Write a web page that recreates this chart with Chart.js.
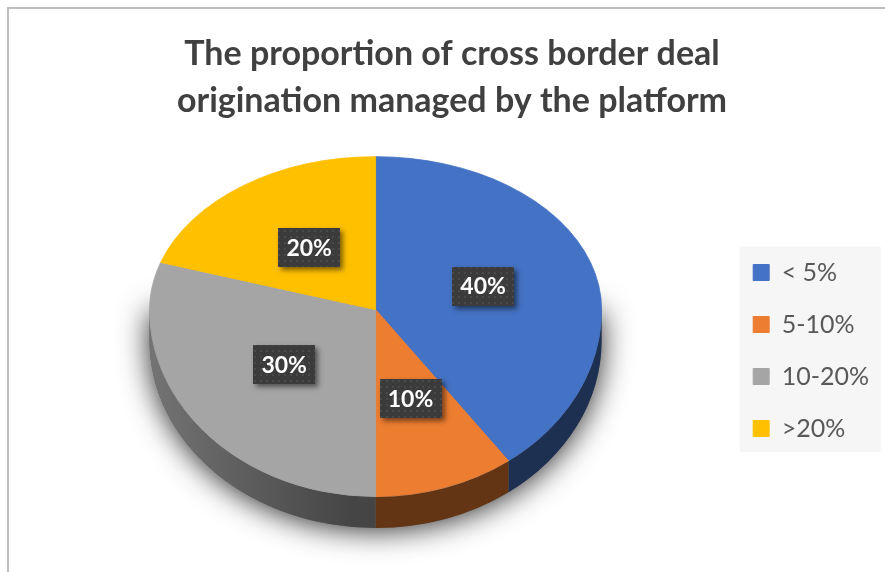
<!DOCTYPE html>
<html>
<head>
<meta charset="utf-8">
<script src="https://cdn.jsdelivr.net/npm/chart.js@4.4.1/dist/chart.umd.min.js"></script>
<style>
    html, body { margin: 0; padding: 0; background: #fff; }
    canvas { display: block; }
</style>
</head>
<body>
<canvas id="myChart" width="885" height="572"></canvas>
<script>
const titleLines = ["The proportion of cross border deal", "origination managed by the platform"];
const categories = ["< 5%", "5-10%", "10-20%", ">20%"];
const shares = [40, 10, 30, 20];
const sliceColors = ["#4472C4", "#ED7D31", "#A5A5A5", "#FFC000"];

// the pie is tilted away: back half squashed more than the front half
const TILT_BACK = 0.677;
const TILT_FRONT = 0.827;
const DEPTH = 31;

function darken(hex, k) {
    const n = parseInt(hex.slice(1), 16);
    const r = Math.round(((n >> 16) & 255) * k);
    const g = Math.round(((n >> 8) & 255) * k);
    const b = Math.round((n & 255) * k);
    return `rgb(${r}, ${g}, ${b})`;
}

// dark dotted fill used behind the percentage labels
function labelPattern(ctx) {
    const tile = document.createElement("canvas");
    tile.width = 6;
    tile.height = 6;
    const t = tile.getContext("2d");
    t.fillStyle = "#3b3b3b";
    t.fillRect(0, 0, 6, 6);
    t.fillStyle = "#4a4a4a";
    t.fillRect(2, 2, 2, 2);
    return ctx.createPattern(tile, "repeat");
}

const framePlugin = {
    id: "frame",
    beforeDraw(chart) {
        const ctx = chart.ctx;
        const lg = chart.legend;
        const pad = lg.options.labels.padding;
        const itemHeight = lg.options.labels.font.size;
        const colHeight = categories.length * (itemHeight + pad);

        ctx.save();
        ctx.strokeStyle = "#bfbfbf";
        ctx.lineWidth = 2;
        ctx.strokeRect(8, 8, chart.width + 20, chart.height + 20);

        // light panel behind the legend
        ctx.fillStyle = "#f6f6f6";
        const top = lg.bottom - colHeight - pad / 2;
        const left = lg.left + pad / 2;
        ctx.fillRect(left, top, 881 - left, lg.bottom - pad * 0.6 - top);
        ctx.restore();
    }
};

const pie3dPlugin = {
    id: "pie3d",
    beforeDatasetsDraw(chart) {
        const ctx = chart.ctx;
        const arcs = chart.getDatasetMeta(0).data;
        const cx = arcs[0].x;
        const cy = Math.round(arcs[0].y);
        const r = arcs[0].outerRadius;
        const ryFront = r * TILT_FRONT;

        // soft shadow under the front rim
        ctx.save();
        ctx.beginPath();
        ctx.moveTo(cx + r, cy);
        ctx.ellipse(cx, cy + DEPTH, r, ryFront, 0, 0, Math.PI);
        ctx.lineTo(cx - r, cy);
        ctx.closePath();
        ctx.shadowColor = "rgba(0, 0, 0, 0.85)";
        ctx.shadowBlur = 30;
        ctx.shadowOffsetY = 2;
        ctx.fillStyle = "#666";
        ctx.fill();
        ctx.restore();

        // side walls, only the front half is visible
        arcs.forEach((arc) => {
            const a = Math.max(arc.startAngle, 0);
            const b = Math.min(arc.endAngle, Math.PI);
            if (b <= a) return;
            ctx.save();
            ctx.beginPath();
            ctx.ellipse(cx, cy, r, ryFront, 0, a, b);
            ctx.ellipse(cx, cy + DEPTH, r, ryFront, 0, b, a, true);
            ctx.closePath();
            ctx.fillStyle = darken(arc.options.backgroundColor, 0.42);
            ctx.fill();
            const shade = ctx.createLinearGradient(cx - r, 0, cx - r * 0.1, 0);
            shade.addColorStop(0, "rgba(255, 255, 255, 0.25)");
            shade.addColorStop(1, "rgba(255, 255, 255, 0)");
            ctx.fillStyle = shade;
            ctx.fill();
            ctx.restore();
        });

        // top face, drawn in two halves with different squash
        [[TILT_BACK, 0, cy], [TILT_FRONT, cy, chart.height]].forEach(([s, y0, y1]) => {
            ctx.save();
            ctx.beginPath();
            ctx.rect(0, y0, chart.width, y1 - y0);
            ctx.clip();
            ctx.translate(cx, cy);
            ctx.scale(1, s);
            ctx.translate(-cx, -cy);
            arcs.forEach(arc => arc.draw(ctx));
            ctx.restore();
        });

        // value labels
        ctx.save();
        ctx.font = "bold 23px Lato";
        ctx.textAlign = "center";
        ctx.textBaseline = "middle";
        const fill = labelPattern(ctx);
        arcs.forEach((arc, i) => {
            const p = arc.tooltipPosition();
            const y = cy + (p.y - cy) * (p.y < cy ? TILT_BACK : TILT_FRONT);
            const text = shares[i] + "%";
            const w = Math.round(ctx.measureText(text).width + 16);
            const h = 39;
            const bx = Math.round(p.x - w / 2);
            const by = Math.round(y - h / 2);

            ctx.save();
            ctx.shadowColor = "rgba(0, 0, 0, 0.5)";
            ctx.shadowBlur = 5;
            ctx.shadowOffsetX = 3;
            ctx.shadowOffsetY = 3;
            ctx.fillStyle = "#3b3b3b";
            ctx.fillRect(bx, by, w, h);
            ctx.restore();
            ctx.fillStyle = fill;
            ctx.fillRect(bx, by, w, h);

            ctx.fillStyle = "#ffffff";
            ctx.fillText(text, p.x, y + 1);
        });
        ctx.restore();

        return false;
    }
};

Chart.defaults.font.family = "Lato";

new Chart("myChart", {
    type: "pie",
    data: {
        labels: categories,
        datasets: [{
            data: shares,
            backgroundColor: sliceColors,
            borderColor: sliceColors,
            borderWidth: 1
        }]
    },
    options: {
        responsive: false,
        animation: false,
        devicePixelRatio: 1,
        events: [],
        radius: 226,
        layout: {
            padding: { left: 25, right: 6, top: 0, bottom: 104 }
        },
        plugins: {
            title: {
                display: true,
                text: titleLines,
                color: "#404040",
                font: { size: 34, weight: "bold", family: "Lato", lineHeight: 1.368 },
                padding: { top: 31, bottom: 27 }
            },
            legend: {
                position: "right",
                align: "end",
                labels: {
                    boxWidth: 16,
                    boxHeight: 16,
                    padding: 27,
                    color: "#595959",
                    font: { size: 25, family: "Lato" }
                }
            },
            tooltip: { enabled: false }
        }
    },
    plugins: [framePlugin, pie3dPlugin]
});
</script>
</body>
</html>
